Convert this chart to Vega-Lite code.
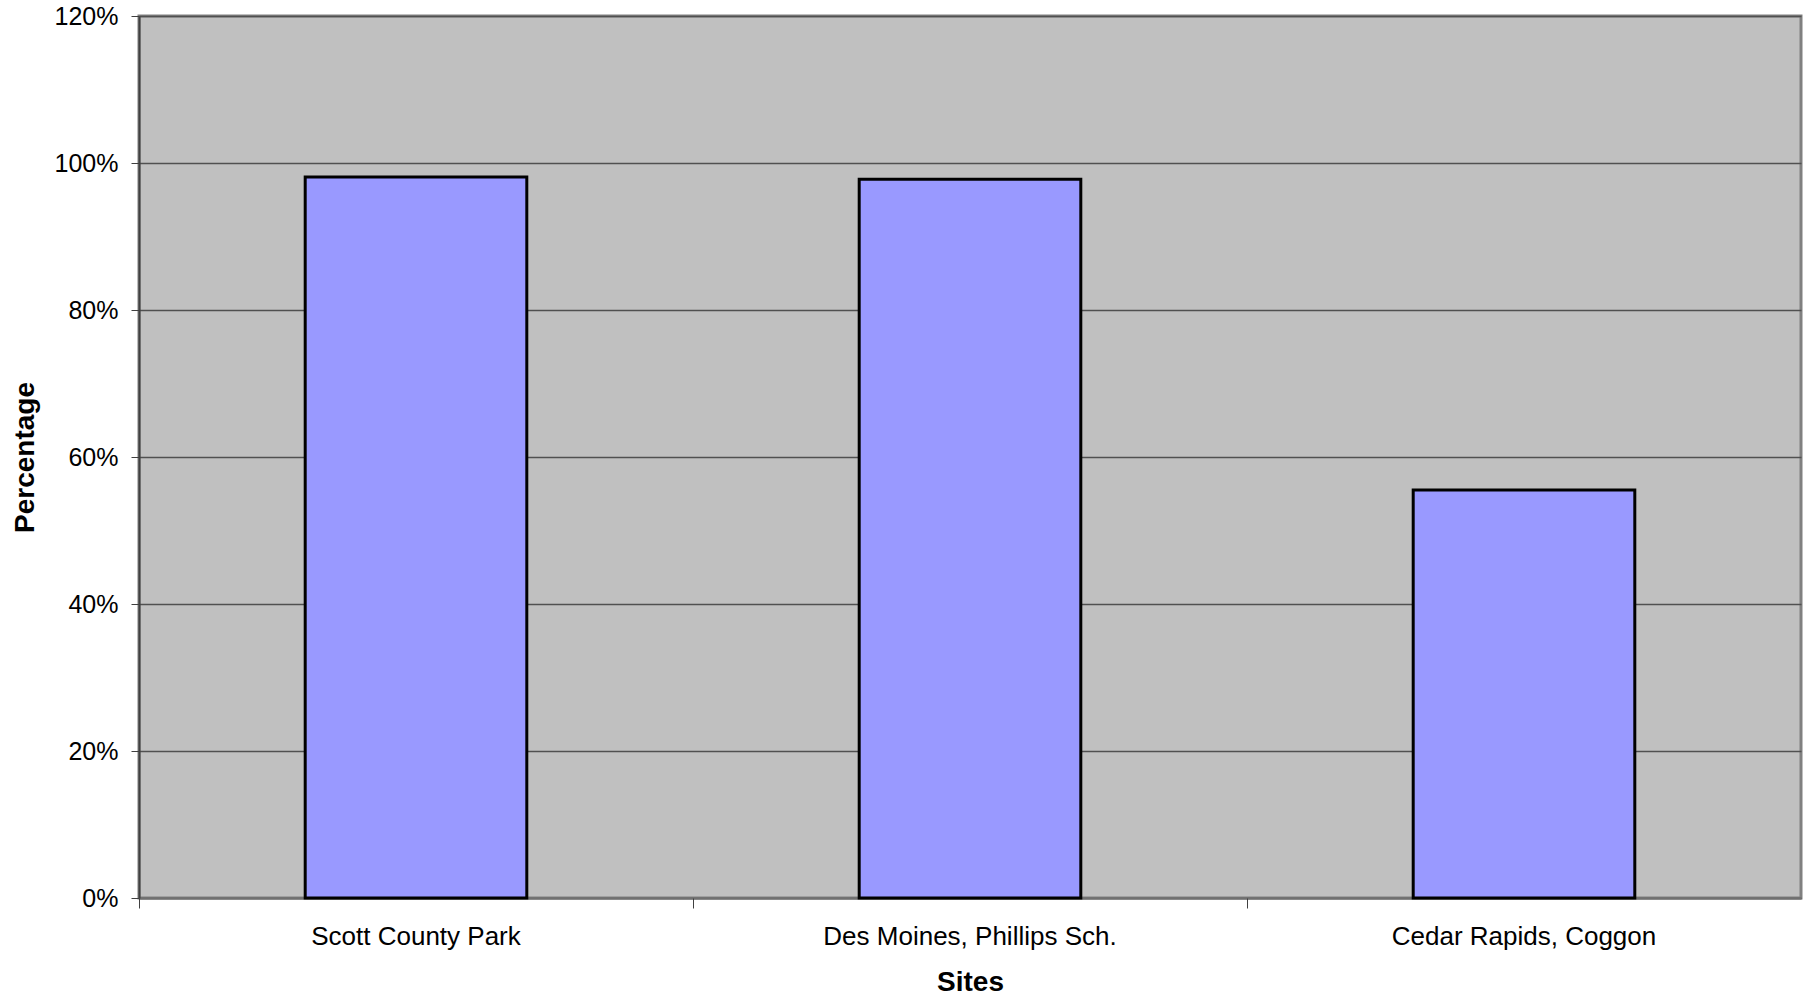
{
  "$schema": "https://vega.github.io/schema/vega-lite/v6.json",
  "autosize": {"type": "none"},
  "width": 1662,
  "height": 882,
  "padding": {"left": 139, "top": 16, "right": 3, "bottom": 103},
  "background": "white",
  "config": {
    "view": {"fill": "#C0C0C0", "stroke": "#808080", "strokeWidth": 3},
    "font": "Liberation Sans"
  },
  "data": {
    "values": [
      {"site": "Scott County Park", "pct": 0.981},
      {"site": "Des Moines, Phillips Sch.", "pct": 0.978},
      {"site": "Cedar Rapids, Coggon", "pct": 0.555}
    ]
  },
  "resolve": {"axis": {"x": "independent"}},
  "layer": [
    {
      "mark": {"type": "bar", "fill": "#9999FF", "stroke": "#000000", "strokeWidth": 3},
      "encoding": {
        "x": {
          "field": "site",
          "type": "nominal",
          "sort": null,
          "scale": {"paddingInner": 0.6, "paddingOuter": 0.3},
          "axis": {
            "orient": "bottom",
            "title": "Sites",
            "titleFont": "Liberation Sans",
            "titleFontSize": 28,
            "titleFontWeight": "bold",
            "titleColor": "#000000",
            "titlePadding": 19,
            "labelAngle": 0,
            "labelLimit": 0,
            "labelFont": "Liberation Sans",
            "labelFontSize": 26,
            "labelColor": "#000000",
            "labelPadding": 15,
            "tickSize": 10,
            "tickColor": "transparent",
            "domainColor": "#707070",
            "domainWidth": 2,
            "grid": false
          }
        },
        "y": {
          "field": "pct",
          "type": "quantitative",
          "scale": {"domain": [0, 1.2], "nice": false},
          "axis": {
            "title": "Percentage",
            "titleFont": "Liberation Sans",
            "titleFontSize": 28,
            "titleFontWeight": "bold",
            "titleColor": "#000000",
            "titlePadding": 15,
            "values": [0, 0.2, 0.4, 0.6, 0.8, 1.0, 1.2],
            "format": ".0%",
            "labelFont": "Liberation Sans",
            "labelFontSize": 25,
            "labelColor": "#000000",
            "labelPadding": 13,
            "tickSize": 8,
            "tickColor": "#404040",
            "domainColor": "#404040",
            "domainWidth": 2,
            "grid": true,
            "gridColor": "#505050",
            "gridWidth": 1.5
          }
        }
      }
    },
    {
      "mark": {"type": "bar", "opacity": 0},
      "encoding": {
        "x": {
          "field": "site",
          "type": "nominal",
          "sort": null,
          "axis": {
            "orient": "bottom",
            "title": null,
            "labels": false,
            "domain": false,
            "grid": false,
            "tickOffset": -277,
            "tickSize": 10,
            "tickColor": "#404040",
            "tickWidth": 1
          }
        },
        "y": {"field": "pct", "type": "quantitative"}
      }
    }
  ]
}
